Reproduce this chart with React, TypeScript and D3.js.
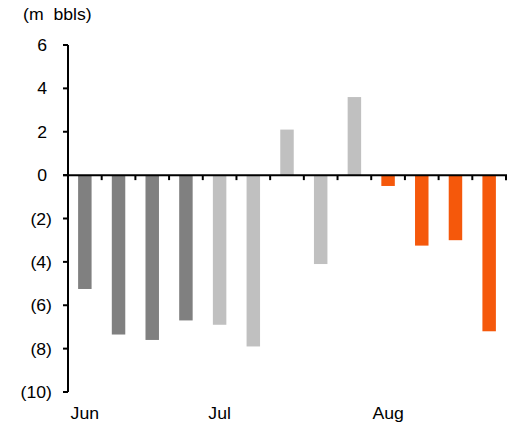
import React from "react";
import * as d3 from "d3";

const weeks = ["W1", "W2", "W3", "W4", "W5", "W6", "W7", "W8", "W9", "W10", "W11", "W12", "W13"];
const values = [-5.25, -7.35, -7.6, -6.7, -6.9, -7.9, 2.1, -4.1, 3.6, -0.5, -3.25, -3.0, -7.2];
const groups = ["dark", "dark", "dark", "dark", "light", "light", "light", "light", "light", "orange", "orange", "orange", "orange"];
const monthLabels = [
  { week: "W1", label: "Jun" },
  { week: "W5", label: "Jul" },
  { week: "W10", label: "Aug" },
];
const yTicks = [6, 4, 2, 0, -2, -4, -6, -8, -10];
const unitLabel = "(m  bbls)";

const colors: Record<string, string> = {
  dark: "#808080",
  light: "#c0c0c0",
  orange: "#f5580b",
};

const W = 516;
const H = 428;
const left = 68;
const right = 506;
const top = 45;
const bottom = 392;
const FS = 16.5;
const SX = 1.07;

function fmt(v: number) {
  return v < 0 ? `(${Math.abs(v)})` : `${v}`;
}

function T({ x, y, anchor, children }: { x: number; y: number; anchor: string; children: React.ReactNode }) {
  return (
    <g transform={`translate(${x},${y}) scale(${SX},1)`}>
      <text
        x={0}
        y={0}
        textAnchor={anchor as any}
        fontSize={FS}
        fontFamily="Liberation Sans, Arial, sans-serif"
        fill="#000"
        style={{ whiteSpace: "pre" }}
      >
        {children}
      </text>
    </g>
  );
}

export default function App() {
  const x = d3.scaleBand<string>().domain(weeks).range([left, right]).paddingInner(0.6).paddingOuter(0.3);
  const y = d3.scaleLinear().domain([-10, 6]).range([bottom, top]);
  const step = x.step();
  const off = (step - x.bandwidth()) / 2;
  const boundaries = weeks.map((w) => (x(w) as number) - off).concat([right]);

  return (
    <svg width={W} height={H} style={{ position: "absolute", left: 0, top: 0, background: "#fff" }}>
      <rect x={0} y={0} width={W} height={H} fill="#fff" />
      {weeks.map((w, i) => {
        const v = values[i];
        const y0 = y(0);
        const y1 = y(v);
        return (
          <rect
            key={w}
            x={x(w)}
            y={Math.min(y0, y1)}
            width={x.bandwidth()}
            height={Math.abs(y1 - y0)}
            fill={colors[groups[i]]}
          />
        );
      })}
      {/* y axis */}
      <line x1={left} x2={left} y1={y(6)} y2={y(-10)} stroke="#000" strokeWidth={2} />
      {yTicks.map((t) => (
        <g key={t}>
          <line x1={left - 5} x2={left} y1={y(t)} y2={y(t)} stroke="#000" strokeWidth={2} />
          <T x={t < 0 ? 52 : 47} y={y(t) + 6} anchor="end">
            {fmt(t)}
          </T>
        </g>
      ))}
      {/* x axis */}
      <line x1={left - 5} x2={right + 1} y1={y(0)} y2={y(0)} stroke="#000" strokeWidth={2} />
      {boundaries.map((b, i) => (
        <line key={i} x1={b} x2={b} y1={y(0)} y2={y(0) + 5} stroke="#000" strokeWidth={2} />
      ))}
      {monthLabels.map((m) => (
        <T key={m.label} x={(x(m.week) as number) + x.bandwidth() / 2} y={419} anchor="middle">
          {m.label}
        </T>
      ))}
      <T x={23} y={20} anchor="start">
        {unitLabel}
      </T>
    </svg>
  );
}
